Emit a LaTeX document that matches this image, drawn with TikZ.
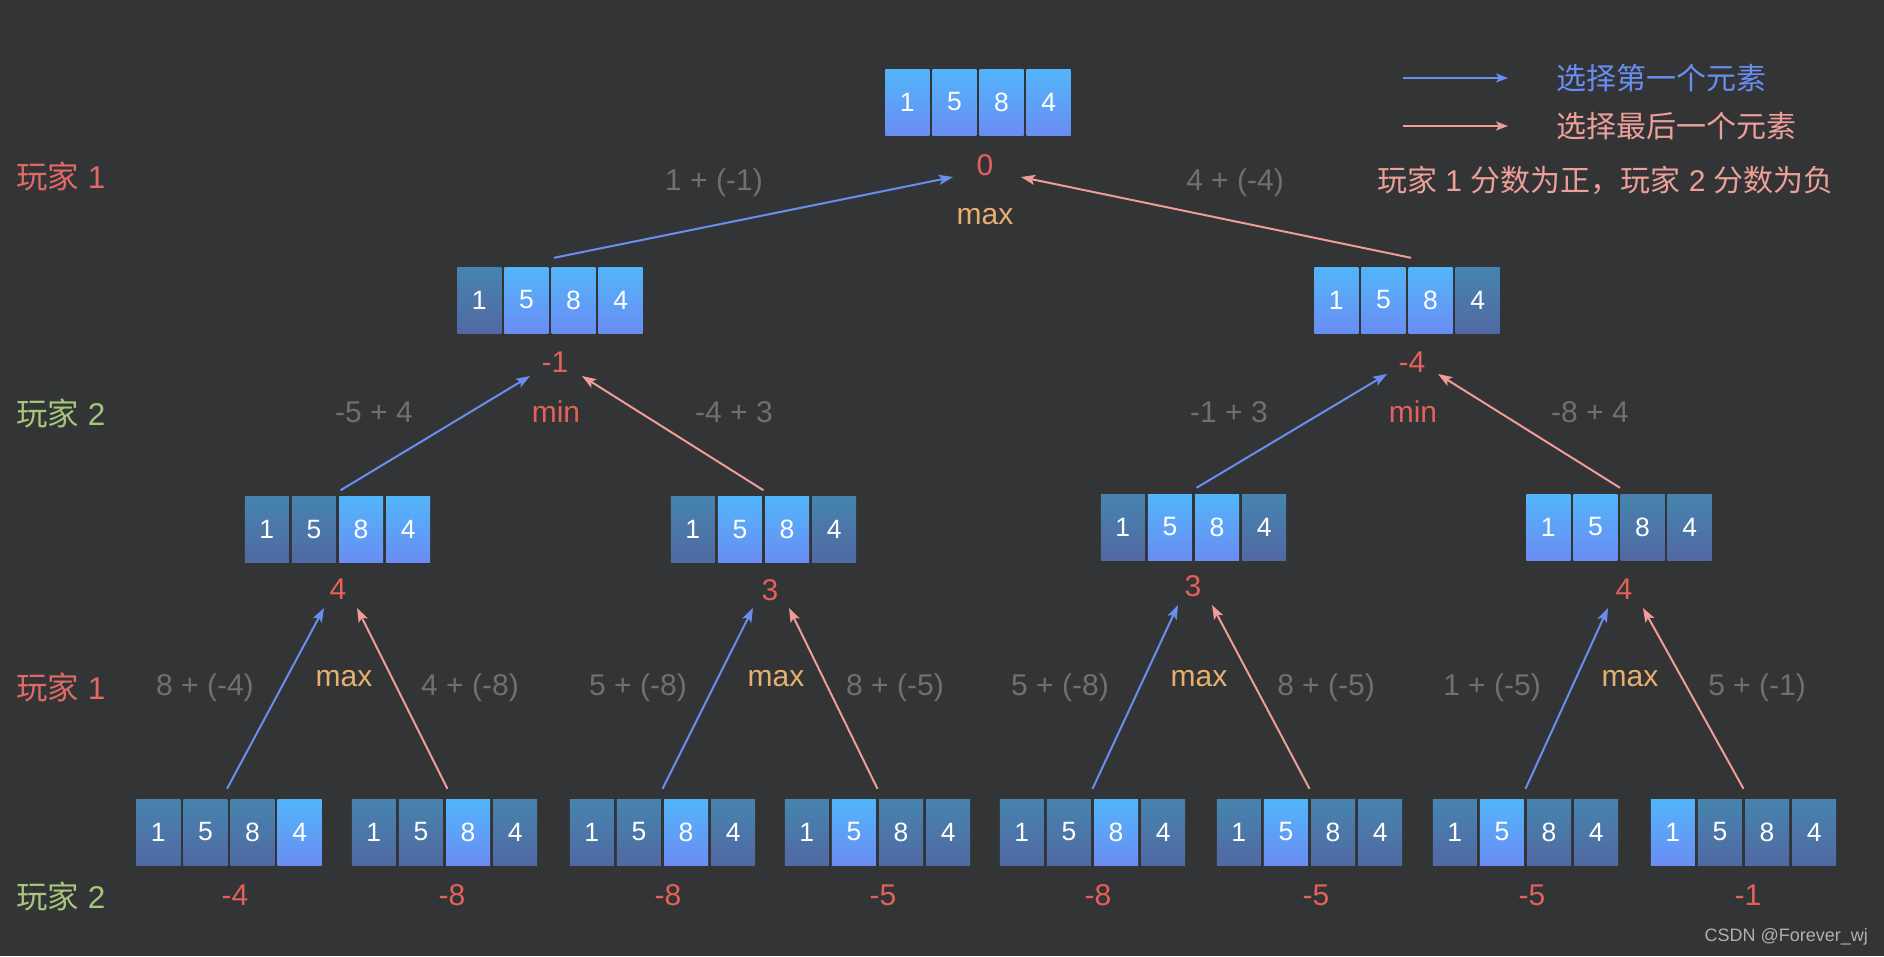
\documentclass[tikz,border=0pt]{standalone}
\usepackage{fontspec}
\setmainfont{Liberation Sans}
\newfontfamily\cjk{Noto Sans CJK SC}
\usetikzlibrary{arrows.meta}
\definecolor{bg}{HTML}{333436}
\definecolor{hiT}{HTML}{52B5FA}
\definecolor{hiB}{HTML}{6A8DF3}
\definecolor{loT}{HTML}{4684AE}
\definecolor{loB}{HTML}{5169A3}
\definecolor{valred}{HTML}{E4605A}
\definecolor{maxor}{HTML}{E8B070}
\definecolor{labgray}{HTML}{707070}
\definecolor{arrblue}{HTML}{6A8EF0}
\definecolor{arrred}{HTML}{F09C98}
\definecolor{p1red}{HTML}{E06A66}
\definecolor{p2green}{HTML}{A5C67C}
\definecolor{legred}{HTML}{EE9F99}
\definecolor{wm}{HTML}{B0B0B0}
\newcommand\lab{\fontsize{30}{34}\selectfont}
\newcommand\plab{\fontsize{31.5}{36}\selectfont}
\newcommand\cellfont{\fontsize{26.5}{30}\selectfont}
\newcommand\arr[4]{%
  \node[arrbox] (#1) at (#2,#3) {};
  \foreach \f/\n [count=\i] in {#4} {
    \node[cell,\f] (#1-\i) at ({#2-70.7+(\i-1)*47.13},#3) {\n};
  }%
}
\tikzset{
  arrbox/.style={minimum width=185pt, minimum height=66pt, inner sep=0pt},
  cell/.style={minimum width=44pt, minimum height=66pt, inner sep=0pt, text=white, font=\cellfont},
  hi/.style={top color=hiT, bottom color=hiB},
  lo/.style={top color=loT, bottom color=loB},
  val/.style={text=valred, font=\lab, inner sep=0pt},
  mx/.style={text=maxor, font=\lab, inner sep=0pt},
  mn/.style={text=valred, font=\lab, inner sep=0pt},
  gl/.style={text=labgray, font=\lab, inner sep=0pt},
  p1/.style={text=p1red, font=\plab, inner sep=0pt},
  p2/.style={text=p2green, font=\plab, inner sep=0pt},
  barrow/.style={draw=arrblue, line width=2pt, -{Stealth[length=14pt,width=10pt,inset=3pt]}},
  rarrow/.style={draw=arrred, line width=2pt, -{Stealth[length=14pt,width=10pt,inset=3pt]}},
}
\begin{document}
\begin{tikzpicture}[x=1pt,y=-1pt]
\fill[bg] (0,0) rectangle (1884,956);
\useasboundingbox (0,0) rectangle (1884,956);
% arrays
\arr{r}{978}{102}{hi/1,hi/5,hi/8,hi/4}
\arr{l}{550}{300}{lo/1,hi/5,hi/8,hi/4}
\arr{rr}{1407}{300}{hi/1,hi/5,hi/8,lo/4}
\arr{a}{337.5}{529.5}{lo/1,lo/5,hi/8,hi/4}
\arr{b}{763.5}{529.5}{lo/1,hi/5,hi/8,lo/4}
\arr{c}{1193.5}{527}{lo/1,hi/5,hi/8,lo/4}
\arr{d}{1619}{527}{hi/1,hi/5,lo/8,lo/4}
\arr{a1}{229}{832}{lo/1,lo/5,lo/8,hi/4}
\arr{a2}{444.5}{832}{lo/1,lo/5,hi/8,lo/4}
\arr{b1}{662.5}{832}{lo/1,lo/5,hi/8,lo/4}
\arr{b2}{877.5}{832}{lo/1,hi/5,lo/8,lo/4}
\arr{c1}{1092.5}{832}{lo/1,lo/5,hi/8,lo/4}
\arr{c2}{1309.5}{832}{lo/1,hi/5,lo/8,lo/4}
\arr{d1}{1525.5}{832}{lo/1,hi/5,lo/8,lo/4}
\arr{d2}{1743.5}{832}{hi/1,lo/5,lo/8,lo/4}
% values
\node[val] (vr) at (985,165) {0};
\node[mx] (mr) at (985,217) {max};
\node[val] (vl) at (555,362) {-1};
\node[mn] (ml) at (556,412) {min};
\node[val] (vrr) at (1412,362) {-4};
\node[mn] (mrr) at (1413,412) {min};
\node[val] (va) at (338,589) {4};
\node[val] (vb) at (770,590) {3};
\node[val] (vc) at (1193,586) {3};
\node[val] (vd) at (1624,589) {4};
\node[mx] (ma) at (344,679) {max};
\node[mx] (mb) at (776,679) {max};
\node[mx] (mc) at (1199,679) {max};
\node[mx] (md) at (1630,679) {max};
\node[val] (va1) at (235,895) {-4};
\node[val] (va2) at (452,895) {-8};
\node[val] (vb1) at (668,895) {-8};
\node[val] (vb2) at (883,895) {-5};
\node[val] (vc1) at (1098,895) {-8};
\node[val] (vc2) at (1316,895) {-5};
\node[val] (vd1) at (1532,895) {-5};
\node[val] (vd2) at (1748,895) {-1};
% gray edge labels
\node[gl] (g1) at (714,183) {1 + (-1)};
\node[gl] (g2) at (1235,183) {4 + (-4)};
\node[gl] (g3) at (374,412) {-5 + 4};
\node[gl] (g4) at (734,412) {-4 + 3};
\node[gl] (g5) at (1229,412) {-1 + 3};
\node[gl] (g6) at (1590,412) {-8 + 4};
\node[gl] (g7) at (205,688) {8 + (-4)};
\node[gl] (g8) at (470,688) {4 + (-8)};
\node[gl] (g9) at (638,688) {5 + (-8)};
\node[gl] (g10) at (895,688) {8 + (-5)};
\node[gl] (g11) at (1060,688) {5 + (-8)};
\node[gl] (g12) at (1326,688) {8 + (-5)};
\node[gl] (g13) at (1492,688) {1 + (-5)};
\node[gl] (g14) at (1757,688) {5 + (-1)};
% player labels
\node[p1,anchor=west] (pl1) at (16,176) {{\cjk 玩家} 1};
\node[p2,anchor=west] (pl2) at (16,413) {{\cjk 玩家} 2};
\node[p1,anchor=west] (pl3) at (16,687) {{\cjk 玩家} 1};
\node[p2,anchor=west] (pl4) at (16,896) {{\cjk 玩家} 2};
% arrows level 1
\draw[barrow] ([shift={(4,-9)}]l.north) -- ([shift={(-32,12)}]vr.center);
\draw[rarrow] ([shift={(4,-9)}]rr.north) -- ([shift={(36,12)}]vr.center);
% level 2
\draw[barrow] ([shift={(3,-6)}]a.north) -- ([shift={(-25,14)}]vl.center);
\draw[rarrow] ([shift={(0,-6)}]b.north) -- ([shift={(27,14)}]vl.center);
\draw[barrow] ([shift={(3,-6)}]c.north) -- ([shift={(-25,12)}]vrr.center);
\draw[rarrow] ([shift={(1,-6)}]d.north) -- ([shift={(26,12)}]vrr.center);
% level 3
\draw[barrow] ([shift={(-2,-10)}]a1.north) -- ([shift={(-14,19)}]va.center);
\draw[rarrow] ([shift={(3,-10)}]a2.north) -- ([shift={(19,19)}]va.center);
\draw[barrow] ([shift={(0,-10)}]b1.north) -- ([shift={(-17,18)}]vb.center);
\draw[rarrow] ([shift={(0,-10)}]b2.north) -- ([shift={(19,18)}]vb.center);
\draw[barrow] ([shift={(0,-10)}]c1.north) -- ([shift={(-15,19)}]vc.center);
\draw[rarrow] ([shift={(0,-10)}]c2.north) -- ([shift={(19,19)}]vc.center);
\draw[barrow] ([shift={(0,-10)}]d1.north) -- ([shift={(-16,19)}]vd.center);
\draw[rarrow] ([shift={(0,-10)}]d2.north) -- ([shift={(19,19)}]vd.center);
% legend
\coordinate (lb1) at (1403,78);
\coordinate (lb2) at (1508,78);
\coordinate (lr1) at (1403,126);
\coordinate (lr2) at (1508,126);
\draw[draw=arrblue, line width=2pt, -{Stealth[length=12pt,width=9pt,inset=3pt]}] (lb1) -- (lb2);
\draw[draw=arrred, line width=2pt, -{Stealth[length=12pt,width=9pt,inset=3pt]}] (lr1) -- (lr2);
\node[anchor=west, text=arrblue, font=\lab\cjk, inner sep=0pt] (t1) at (1556,78) {选择第一个元素};
\node[anchor=west, text=legred, font=\lab\cjk, inner sep=0pt] (t2) at (1556,126) {选择最后一个元素};
\node[anchor=east, text=legred, font=\lab, inner sep=0pt] (t3) at (1834,180) {{\cjk 玩家} 1 {\cjk 分数为正，玩家} 2 {\cjk 分数为负}};
% watermark
\node[anchor=east, text=wm, font=\fontsize{18}{22}\selectfont, inner sep=0pt] (w) at (1868,937) {CSDN @Forever\_wj};
\end{tikzpicture}
\end{document}
